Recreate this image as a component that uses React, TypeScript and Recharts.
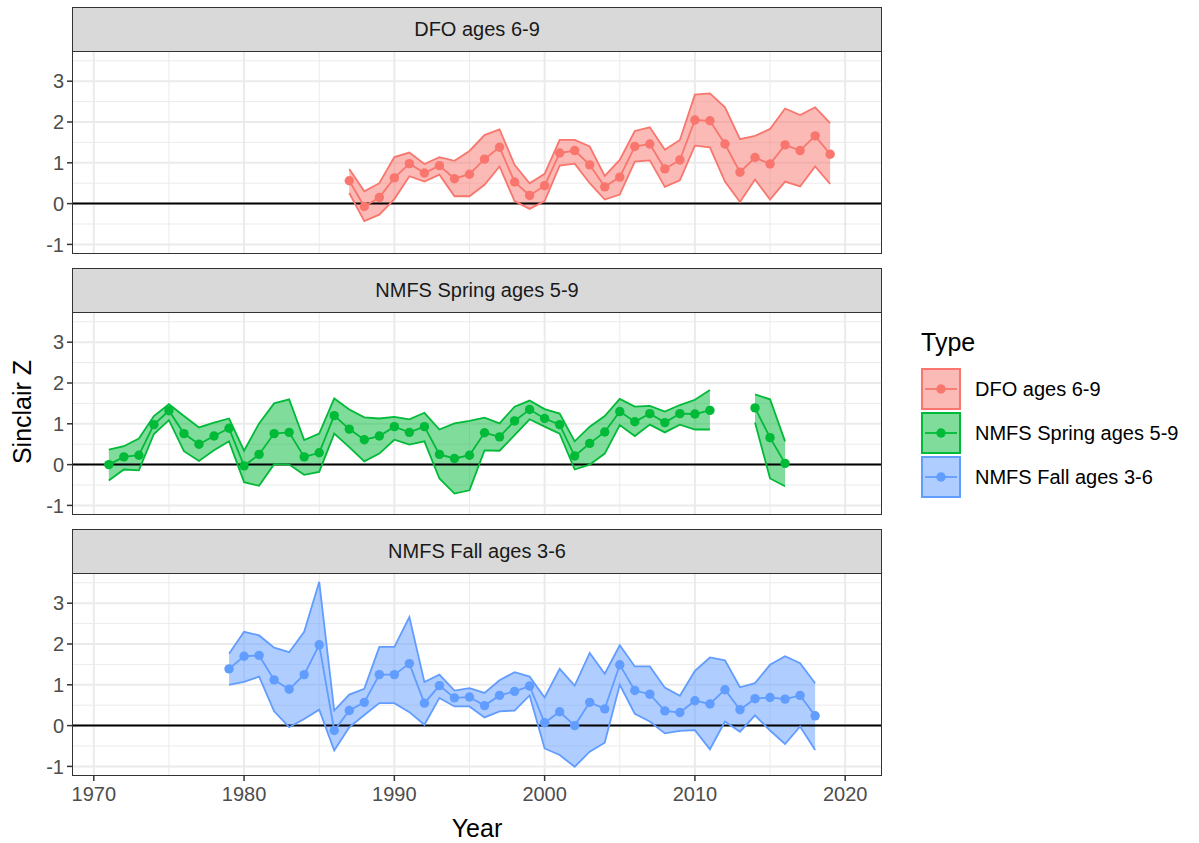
import React from 'react';
import { Area, CartesianGrid, ComposedChart, Line, ReferenceLine, XAxis, YAxis } from 'recharts';

const FONT = '"Liberation Sans", Arial, sans-serif';

const seriesNames = ['DFO ages 6-9', 'NMFS Spring ages 5-9', 'NMFS Fall ages 3-6'];
const seriesColors = ['#F8766D', '#00BA38', '#619CFF'];

const xTicks = [1970, 1980, 1990, 2000, 2010, 2020];
const xMinor = [1975, 1985, 1995, 2005, 2015];
const yTicks = [-1, 0, 1, 2, 3];
const yMinor = [-0.5, 0.5, 1.5, 2.5, 3.5];

// DFO ages 6-9
const dfoYears = [1987, 1988, 1989, 1990, 1991, 1992, 1993, 1994, 1995, 1996, 1997, 1998, 1999, 2000, 2001, 2002, 2003,
  2004, 2005, 2006, 2007, 2008, 2009, 2010, 2011, 2012, 2013, 2014, 2015, 2016, 2017, 2018, 2019];
const dfoMean = [0.56, -0.07, 0.15, 0.63, 0.98, 0.75, 0.93, 0.61, 0.72, 1.09, 1.38, 0.53, 0.2, 0.44, 1.24, 1.3, 0.95,
  0.41, 0.65, 1.4, 1.46, 0.85, 1.07, 2.05, 2.03, 1.46, 0.77, 1.13, 0.97, 1.44, 1.3, 1.66, 1.21];
const dfoLow = [0.26, -0.43, -0.27, 0.11, 0.67, 0.54, 0.71, 0.18, 0.18, 0.46, 0.91, 0.06, -0.13, 0.06, 0.93, 0.98, 0.5,
  0.1, 0.22, 1.03, 1.06, 0.41, 0.57, 1.42, 1.38, 0.54, 0.04, 0.59, 0.1, 0.54, 0.42, 0.91, 0.48];
const dfoHigh = [0.85, 0.3, 0.5, 1.14, 1.25, 0.97, 1.14, 1.05, 1.29, 1.68, 1.82, 0.95, 0.5, 0.73, 1.56, 1.56, 1.4,
  0.68, 1.07, 1.78, 1.87, 1.32, 1.56, 2.67, 2.7, 2.36, 1.58, 1.66, 1.83, 2.33, 2.17, 2.36, 1.97];

// NMFS Spring ages 5-9 (no survey 2012-2013)
const springYears = [1971, 1972, 1973, 1974, 1975, 1976, 1977, 1978, 1979, 1980, 1981, 1982, 1983, 1984, 1985, 1986,
  1987, 1988, 1989, 1990, 1991, 1992, 1993, 1994, 1995, 1996, 1997, 1998, 1999, 2000, 2001, 2002, 2003, 2004, 2005,
  2006, 2007, 2008, 2009, 2010, 2011, 2012, 2013, 2014, 2015, 2016];
const springMean = [0.0, 0.19, 0.23, 0.98, 1.32, 0.76, 0.5, 0.7, 0.89, -0.03, 0.25, 0.76, 0.79, 0.19, 0.29, 1.2,
  0.87, 0.61, 0.7, 0.93, 0.79, 0.93, 0.25, 0.15, 0.23, 0.78, 0.68, 1.07, 1.35, 1.13, 0.98, 0.21, 0.52, 0.8, 1.3,
  1.05, 1.25, 1.03, 1.25, 1.24, 1.33, null, null, 1.39, 0.66, 0.03];
const springLow = [-0.39, -0.12, -0.14, 0.75, 1.09, 0.33, 0.09, 0.35, 0.57, -0.43, -0.52, 0.01, 0.0, -0.25, -0.18, 0.76,
  0.43, 0.08, 0.27, 0.61, 0.49, 0.57, -0.34, -0.71, -0.63, 0.35, 0.34, 0.72, 1.11, 0.93, 0.76, -0.12, 0.0, 0.27, 0.97,
  0.7, 0.98, 0.79, 0.98, 0.86, 0.86, null, null, 1.03, -0.34, -0.53];
const springHigh = [0.37, 0.45, 0.64, 1.19, 1.48, 1.19, 0.91, 1.03, 1.13, 0.34, 1.01, 1.5, 1.6, 0.6, 0.76, 1.62,
  1.35, 1.16, 1.13, 1.17, 1.11, 1.27, 0.86, 1.01, 1.07, 1.15, 1.01, 1.42, 1.57, 1.36, 1.25, 0.57, 0.93, 1.19, 1.61,
  1.42, 1.44, 1.3, 1.46, 1.59, 1.83, null, null, 1.72, 1.6, 0.57];

// NMFS Fall ages 3-6
const fallYears = [1979, 1980, 1981, 1982, 1983, 1984, 1985, 1986, 1987, 1988, 1989, 1990, 1991, 1992, 1993, 1994,
  1995, 1996, 1997, 1998, 1999, 2000, 2001, 2002, 2003, 2004, 2005, 2006, 2007, 2008, 2009, 2010, 2011, 2012, 2013,
  2014, 2015, 2016, 2017, 2018];
const fallMean = [1.39, 1.7, 1.72, 1.12, 0.89, 1.25, 1.98, -0.12, 0.37, 0.57, 1.25, 1.25, 1.52, 0.55, 0.98, 0.68,
  0.7, 0.49, 0.74, 0.84, 0.97, 0.07, 0.34, 0.0, 0.57, 0.41, 1.49, 0.86, 0.77, 0.36, 0.32, 0.61, 0.53, 0.88, 0.39,
  0.66, 0.69, 0.65, 0.74, 0.24];
const fallLow = [1.0, 1.07, 1.2, 0.35, -0.04, 0.16, 0.39, -0.61, -0.04, 0.26, 0.55, 0.55, 0.33, 0.02, 0.68, 0.47,
  0.47, 0.2, 0.35, 0.37, 0.74, -0.56, -0.72, -1.01, -0.64, -0.42, 1.0, 0.29, 0.1, -0.19, -0.13, -0.11, -0.58, 0.1,
  -0.15, 0.25, -0.12, -0.45, -0.02, -0.6];
const fallHigh = [1.76, 2.3, 2.21, 1.91, 1.8, 2.3, 3.52, 0.37, 0.76, 0.9, 1.93, 1.93, 2.66, 1.07, 1.25, 0.86,
  0.92, 0.8, 1.11, 1.31, 1.2, 0.69, 1.39, 0.98, 1.78, 1.27, 1.97, 1.45, 1.45, 0.93, 0.73, 1.34, 1.67, 1.6, 0.94,
  1.04, 1.49, 1.7, 1.53, 1.04];

type Val = number | null;

const makeRows = (years: number[], mean: Val[], low: Val[], high: Val[]) =>
  years.map((year, i) => ({
    year,
    mean: mean[i],
    low: low[i],
    high: high[i],
    band: low[i] == null || high[i] == null ? null : [low[i], high[i]],
  }));

const panels = [
  makeRows(dfoYears, dfoMean, dfoLow, dfoHigh),
  makeRows(springYears, springMean, springLow, springHigh),
  makeRows(fallYears, fallMean, fallLow, fallHigh),
];

const X_DOMAIN: [number, number] = [1968.55, 2022.45];
const Y_DOMAIN: [number, number] = [-1.235, 3.74];
const PLOT_LEFT = 72;
const PLOT_W = 810;
const PLOT_H = 203;
const PLOT_TOPS = [51, 312, 573];
const STRIP_H = 44;
const DOT_R = 4.7;

const Panel = ({ idx }: { idx: number }) => {
  const top = PLOT_TOPS[idx];
  const color = seriesColors[idx];
  const showX = idx === 2;
  const bottomPad = showX ? 0 : 12;
  return (
    <>
      <div
        style={{
          position: 'absolute', left: PLOT_LEFT, top: top - STRIP_H, width: PLOT_W, height: STRIP_H + 1,
          boxSizing: 'border-box', background: '#D9D9D9', border: '1.3px solid #333333',
          display: 'flex', alignItems: 'center', justifyContent: 'center',
          fontFamily: FONT, fontSize: 20, color: '#1A1A1A',
        }}
      >
        {seriesNames[idx]}
      </div>
      <div style={{ position: 'absolute', left: 0, top }}>
        <ComposedChart
          width={PLOT_LEFT + PLOT_W + 18}
          height={PLOT_H + (showX ? 45 : bottomPad)}
          data={panels[idx]}
          margin={{ top: 0, right: 18, bottom: bottomPad, left: 0 }}
        >
          <CartesianGrid horizontalValues={yMinor} verticalValues={xMinor} stroke="#EBEBEB" strokeWidth={1} />
          <CartesianGrid horizontalValues={yTicks} verticalValues={xTicks} stroke="#EBEBEB" strokeWidth={2} />
          <XAxis
            type="number" dataKey="year" domain={X_DOMAIN} ticks={xTicks} allowDataOverflow hide={!showX}
            height={45} axisLine={false} tickSize={5} tickMargin={6} interval={0}
            tickLine={{ stroke: '#333333', strokeWidth: 1.5 }}
            tick={{ fill: '#4D4D4D', fontSize: 20, fontFamily: FONT }}
          />
          <YAxis
            type="number" domain={Y_DOMAIN} ticks={yTicks} allowDataOverflow width={PLOT_LEFT} interval={0}
            axisLine={false} tickSize={5} tickMargin={3}
            tickLine={{ stroke: '#333333', strokeWidth: 1.5 }}
            tick={{ fill: '#4D4D4D', fontSize: 20, fontFamily: FONT }}
          />
          <Area dataKey="band" stroke="none" fill={color} fillOpacity={0.5} isAnimationActive={false} />
          <ReferenceLine y={0} stroke="#000000" strokeWidth={2} />
          <Line dataKey="low" stroke={color} strokeWidth={1.8} dot={false} activeDot={false} isAnimationActive={false} />
          <Line dataKey="high" stroke={color} strokeWidth={1.8} dot={false} activeDot={false} isAnimationActive={false} />
          <Line
            dataKey="mean" stroke={color} strokeWidth={1.8} activeDot={false} isAnimationActive={false}
            dot={{ r: DOT_R, fill: color, stroke: 'none' }}
          />
        </ComposedChart>
      </div>
      <div
        style={{
          position: 'absolute', left: PLOT_LEFT, top, width: PLOT_W, height: PLOT_H,
          boxSizing: 'border-box', border: '1.3px solid #333333', pointerEvents: 'none',
        }}
      />
    </>
  );
};

const LegendKey = ({ color }: { color: string }) => (
  <svg width={40} height={42}>
    <rect x={1} y={1} width={38} height={40} fill={color} fillOpacity={0.5} stroke={color} strokeWidth={2} />
    <line x1={4} x2={36} y1={21} y2={21} stroke={color} strokeWidth={1.8} />
    <circle cx={20} cy={21} r={DOT_R} fill={color} />
  </svg>
);

export default function App() {
  return (
    <div style={{ position: 'absolute', left: 0, top: 0, width: 1199, height: 843, background: '#FFFFFF', fontFamily: FONT }}>
      {[0, 1, 2].map((i) => (
        <Panel key={i} idx={i} />
      ))}
      <div
        style={{
          position: 'absolute', left: 22, top: 412, transform: 'translate(-50%, -50%) rotate(-90deg)',
          fontSize: 25, color: '#000000', whiteSpace: 'nowrap',
        }}
      >
        Sinclair Z
      </div>
      <div
        style={{
          position: 'absolute', left: PLOT_LEFT + PLOT_W / 2, top: 828, transform: 'translate(-50%, -50%)',
          fontSize: 25, color: '#000000',
        }}
      >
        Year
      </div>
      <div style={{ position: 'absolute', left: 921, top: 327 }}>
        <div style={{ fontSize: 25, lineHeight: '30px', color: '#000000', marginBottom: 10 }}>Type</div>
        {seriesNames.map((name, i) => (
          <div key={name} style={{ display: 'flex', alignItems: 'center', height: 44 }}>
            <LegendKey color={seriesColors[i]} />
            <span style={{ marginLeft: 14, fontSize: 20, color: '#000000' }}>{name}</span>
          </div>
        ))}
      </div>
    </div>
  );
}
